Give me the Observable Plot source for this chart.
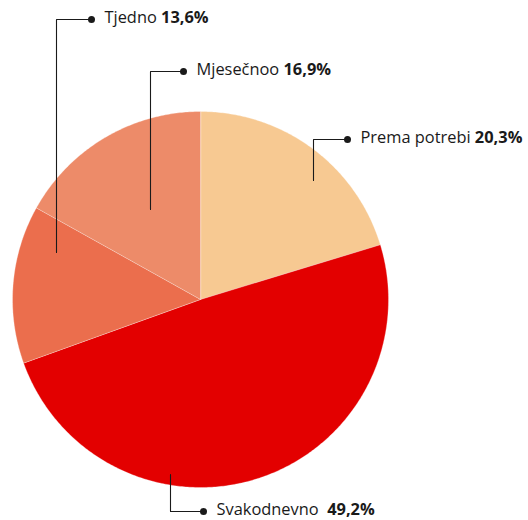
<!DOCTYPE html>
<html>
<head>
<meta charset="utf-8">
<script src="https://cdn.jsdelivr.net/npm/d3@7"></script>
<script src="https://cdn.jsdelivr.net/npm/@observablehq/plot@0.6"></script>
<style>
  html, body { margin: 0; padding: 0; background: #fff; }
  #chart svg { display: block; }
</style>
</head>
<body>
<div id="chart"></div>
<script>
// Data
const categories = ["Prema potrebi", "Svakodnevno", "Tjedno", "Mjesečnoo"];
const values = [20.3, 49.2, 13.6, 16.9];
const valueLabels = ["20,3%", "49,2%", "13,6%", "16,9%"];
const nameSeparators = [" ", "  ", " ", " "];
const colors = ["#f7c992", "#e30000", "#eb6e4d", "#ed8b69"];

// Layout (pixel units)
const W = 528, H = 520;
const cx = 200, cy = 299, R = 188;
const leaders = [
  [[313, 180], [313, 139], [347, 139]],
  [[170, 474], [170, 511], [203, 511]],
  [[56, 252], [56, 19], [91, 19]],
  [[150, 209], [150, 71], [183, 71]]
];
const labelGap = 13;
const FONT = "Open Sans";
const FS = 16.4;

const pie = d3.pie().sort(null).value(d => d)(values);
const sliceRows = [];
pie.forEach((p, i) => {
  sliceRows.push({key: categories[i], color: colors[i], x: cx, y: cy});
  const n = Math.max(2, Math.ceil((p.endAngle - p.startAngle) / 0.01));
  for (let k = 0; k <= n; k++) {
    const a = p.startAngle + (p.endAngle - p.startAngle) * k / n;
    sliceRows.push({key: categories[i], color: colors[i], x: cx + R * Math.sin(a), y: cy - R * Math.cos(a)});
  }
});

const leaderRows = [];
leaders.forEach((pts, i) => pts.forEach(([x, y]) => leaderRows.push({key: categories[i], x, y})));
const dotRows = leaders.map((pts, i) => ({key: categories[i], x: pts[pts.length - 1][0], y: pts[pts.length - 1][1]}));

const ctx = document.createElement("canvas").getContext("2d");
ctx.font = `${FS}px "${FONT}"`;
const nameRows = dotRows.map((d, i) => ({x: d.x + labelGap, y: d.y, text: categories[i] + nameSeparators[i]}));
const valueRows = nameRows.map((d, i) => ({x: d.x + ctx.measureText(d.text).width, y: d.y, text: valueLabels[i]}));

const chart = Plot.plot({
  width: W, height: H,
  margin: 0,
  x: {domain: [0, W], range: [0, W], axis: null},
  y: {domain: [0, H], range: [0, H], axis: null},
  color: {type: "identity"},
  style: {fontFamily: FONT},
  marks: [
    Plot.line(sliceRows, {x: "x", y: "y", z: "key", fill: "color", stroke: "#ffffff", strokeWidth: 0.5, strokeOpacity: 0.6, curve: "linear-closed"}),
    Plot.line(leaderRows, {x: "x", y: "y", z: "key", stroke: "#1a1a1a", strokeWidth: 1.1}),
    Plot.dot(dotRows, {x: "x", y: "y", r: 3.5, fill: "#1a1a1a"}),
    Plot.text(nameRows, {x: "x", y: "y", dy: -2, text: "text", textAnchor: "start", fontSize: FS, fill: "#1a1a1a"}),
    Plot.text(valueRows, {x: "x", y: "y", dy: -2, text: "text", textAnchor: "start", fontSize: FS, fontWeight: "bold", fill: "#1a1a1a"})
  ]
});
document.getElementById("chart").appendChild(chart);
</script>
</body>
</html>
